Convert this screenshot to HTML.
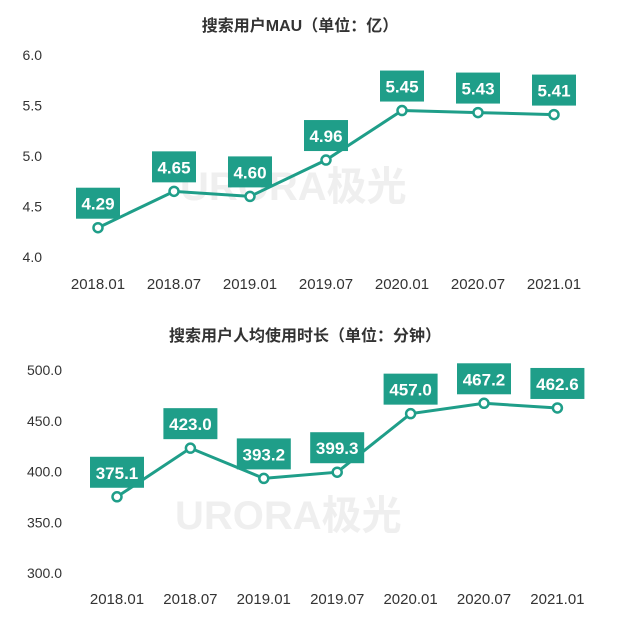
<!DOCTYPE html>
<html><head><meta charset="utf-8"><style>
body{margin:0;background:#fff;}
svg{display:block;font-family:"Liberation Sans","Noto Sans CJK SC",sans-serif;}
</style></head><body>
<svg id="c" width="628" height="628"></svg>
<script>
const categories=["2018.01","2018.07","2019.01","2019.07","2020.01","2020.07","2021.01"];
const mauValues=[4.29,4.65,4.60,4.96,5.45,5.43,5.41];
const mauTicks=[4.0,4.5,5.0,5.5,6.0];
const timeValues=[375.1,423.0,393.2,399.3,457.0,467.2,462.6];
const timeTicks=[300,350,400,450,500];
const NS="http://www.w3.org/2000/svg";
const svg=document.getElementById('c');
const teal="#1f9e89";
function mk(t,a,p){const e=document.createElementNS(NS,t);for(const k in a)e.setAttribute(k,a[k]);(p||svg).appendChild(e);return e;}
function chart(o){
  const g=mk('g',{});
  
  
  const t=mk('text',{x:o.titleX,y:o.titleY,'text-anchor':'middle','font-size':16,'font-weight':'bold',fill:'#333'},g);
  t.textContent=o.title;
  
  
  const wm=mk('text',{x:o.wmX,y:o.wmY,'font-size':40,'font-weight':'bold',fill:'#efefef'},g);
  wm.textContent='URORA极光';
  
  
  const ys=v=>o.y0-(v-o.vmin)/(o.vmax-o.vmin)*(o.y0-o.y1);
  const xs=i=>o.x0+i*o.dx;
  o.ticks.forEach(v=>{
    const l=mk('text',{x:o.tickX,y:ys(v)+5,'text-anchor':'end','font-size':14,fill:'#333'},g);
    l.textContent=v.toFixed(1);
    
    
  });
  categories.forEach((c,i)=>{
    const l=mk('text',{x:xs(i),y:o.catY,'text-anchor':'middle','font-size':15,fill:'#333'},g);
    l.textContent=c;
    
    
  });
  const pts=o.values.map((v,i)=>xs(i)+','+ys(v)).join(' ');
  const pl=mk('polyline',{points:pts,fill:'none',stroke:teal,'stroke-width':3},g);
  
  
  o.values.forEach((v,i)=>{
    const x=xs(i),y=ys(v);
    const c=mk('circle',{cx:x,cy:y,r:4.5,fill:'#fff',stroke:teal,'stroke-width':2.5},g);
    
    
    const r=mk('rect',{x:x-o.bw/2,y:y-40,width:o.bw,height:31,fill:teal},g);
    
    
    const tx=mk('text',{x:x,y:y-18,'text-anchor':'middle','font-size':17,'font-weight':'bold',fill:'#fff'},g);
    tx.textContent=o.fmt(v);
    
    
  });
}
chart({name:'mau-chart',title:'搜索用户MAU（单位：亿）',titleX:300,titleY:31,wmX:180,wmY:200,
  values:mauValues,ticks:mauTicks,vmin:4,vmax:6,y0:257,y1:55,x0:98,dx:76,tickX:42,catY:289,bw:44,fmt:v=>v.toFixed(2)});
chart({name:'time-chart',title:'搜索用户人均使用时长（单位：分钟）',titleX:305,titleY:341,wmX:175,wmY:529,
  values:timeValues,ticks:timeTicks,vmin:300,vmax:500,y0:573,y1:370,x0:117,dx:73.4,tickX:62,catY:604,bw:54,fmt:v=>v.toFixed(1)});
</script>
</body></html>
